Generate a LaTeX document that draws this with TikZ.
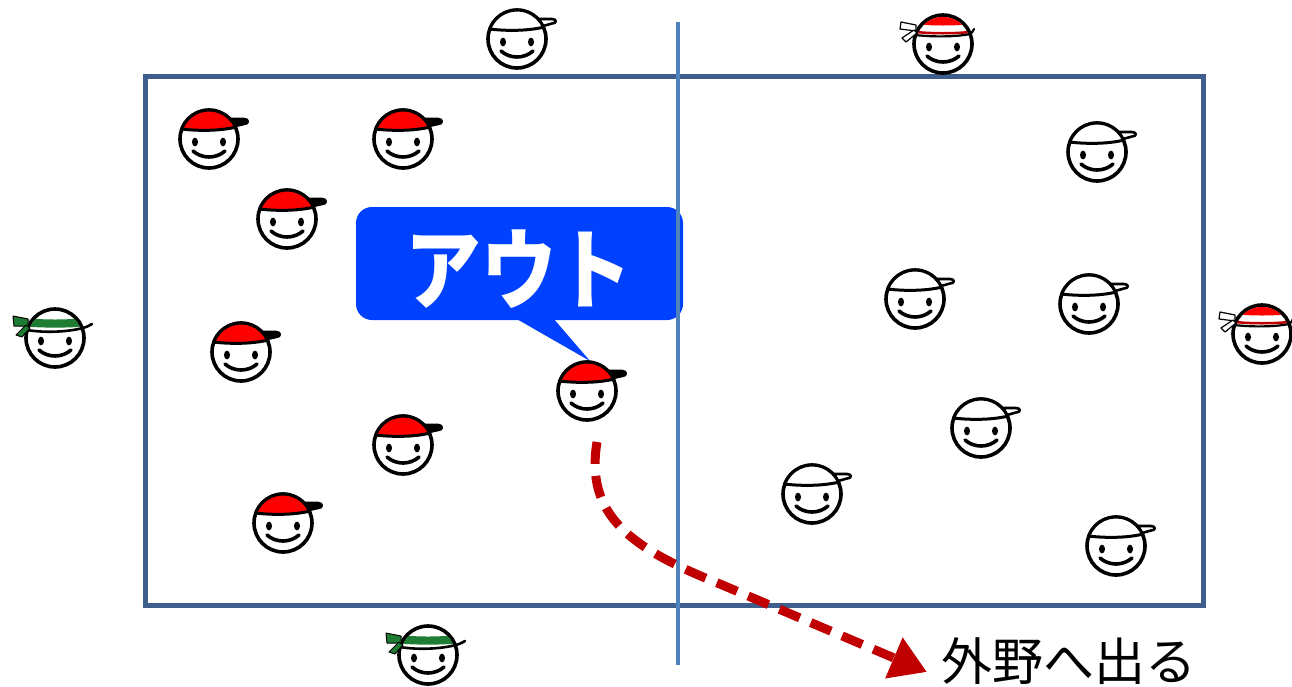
\documentclass[tikz,border=0pt]{standalone}
\usepackage{fontspec}
\usepackage{graphicx}
\newfontfamily\jpfont{Noto Sans CJK JP}
\usetikzlibrary{arrows.meta}

\definecolor{court}{RGB}{62,95,140}
\definecolor{midline}{RGB}{79,129,189}
\definecolor{bubble}{RGB}{0,64,255}
\definecolor{capred}{RGB}{255,0,0}
\definecolor{bandgreen}{RGB}{30,125,50}
\definecolor{pathred}{RGB}{192,0,0}

\tikzset{
  facestroke/.style={line width=3.6pt, line cap=round, line join=round},
  % plain smiling head
  head/.pic={
    \draw[facestroke, fill=white] (0,0) circle (29);
    \fill (-14,3) ellipse (3 and 4.4);
    \fill (14,3) ellipse (3 and 4.4);
    \draw[facestroke] (-16,12) .. controls (-7,20) and (7,20) .. (16,12);
  },
  % head wearing a red cap with a dark brim
  redcap/.pic={
    \pic{head};
    \draw[line width=2.6pt, line join=round, fill=black]
      (22,-20) -- (35,-20) .. controls (40,-20) and (40,-15) .. (35,-15) -- (26,-13) -- cycle;
    \draw[line width=3pt, line join=round, fill=capred]
      (200:29) arc[start angle=200, end angle=336, radius=29]
      .. controls (10,-8) and (-10,-8) .. cycle;
  },
  % head wearing a white cap
  whitecap/.pic={
    \pic{head};
    \draw[line width=2.6pt, line join=round, fill=white]
      (22,-20) -- (35,-20) .. controls (40,-20) and (40,-15.5) .. (35,-15.5) -- (26,-13) -- cycle;
    \draw[line width=3pt, line join=round, fill=white]
      (200:29) arc[start angle=200, end angle=336, radius=29]
      .. controls (10,-8) and (-10,-8) .. cycle;
  },
  % head wearing a green headband
  gband/.pic={
    \pic{head};
    \begin{scope}
      \clip (0,0) circle (27.2);
      \fill[bandgreen] (-30,-20) .. controls (-10,-18) and (10,-18) .. (30,-20)
        -- (30,-11.5) .. controls (10,-10) and (-10,-10) .. (-30,-11.5) -- cycle;
    \end{scope}
    \draw[line width=2.6pt, line cap=round] (-28,-8) .. controls (-10,-5) and (12,-6) .. (28,-10)
      .. controls (32,-11) and (35,-13) .. (37,-14);
    \draw[line width=1pt, fill=bandgreen, line join=round]
      (-27,-19) -- (-42,-22) -- (-41,-12) -- (-27,-12) -- cycle;
    \draw[line width=1pt, fill=bandgreen, line join=round]
      (-29,-13) -- (-39,-3) -- (-33,-1) -- (-25,-10) -- cycle;
  },
  % head wearing a red and white headband
  rband/.pic={
    \pic{head};
    \begin{scope}
      \clip (0,0) circle (27.2);
      \fill[capred] (-30,-40) -- (30,-40) -- (30,-20) .. controls (10,-18) and (-10,-18) .. (-30,-20) -- cycle;
      \fill[pathred] (-30,-13.5) .. controls (-10,-11.5) and (10,-11.5) .. (30,-13.5)
        -- (30,-11) .. controls (10,-9) and (-10,-9) .. (-30,-11) -- cycle;
    \end{scope}
    \draw[line width=2.2pt, line cap=round] (-28,-9) .. controls (-10,-7) and (12,-7) .. (27,-10)
      .. controls (29,-11) and (30,-13) .. (31,-15);
    \draw[line width=1.2pt, fill=white, line join=round]
      (-27,-19) -- (-42,-22) -- (-43,-15) -- (-27,-13) -- cycle;
    \draw[line width=1.2pt, fill=white, line join=round]
      (-29,-14) -- (-41,-6) -- (-37,-2) -- (-26,-11) -- cycle;
  },
}

\begin{document}
\begin{tikzpicture}[x=1pt, y=-1pt]
  \useasboundingbox (0,0) rectangle (1292,686);

  % court outline
  \draw[court, line width=5pt] (145,76) rectangle (1203,605);

  % speech bubble
  \node[fill=bubble, rounded corners=16pt, minimum width=327pt, minimum height=113pt,
        inner sep=0pt] (bubblebox) at (519.5,263.5) {};
  \fill[bubble] (515,318) -- (553,318) -- (590,361) -- cycle;
  \node[text=white, inner sep=0pt, font=\jpfont\bfseries\fontsize{88}{88}\selectfont]
        (outtext) at (519,269) {\scalebox{0.86}[1]{アウト}};

  % centre line
  \draw[midline, line width=3.4pt] (678,22) -- (678,665);

  % label and the route to it
  \node[font=\jpfont\fontsize{51}{51}\selectfont, inner sep=0pt] (outfield) at (1069,661) {外野へ出る};
  \coordinate (outstart) at (597,442);
  \coordinate (outend) at (927,672);
  \draw[pathred, line width=9pt, dash pattern=on 22pt off 12pt,
        -{Triangle[length=36pt, width=42pt]}]
    (outstart) .. controls (585,515) and (630,548) .. (720,584) -- (outend);

  % red team inside the court
  \pic at (209,139) {redcap};
  \pic at (403,139) {redcap};
  \pic at (287,219) {redcap};
  \pic at (241,352) {redcap};
  \pic at (587,391) {redcap};
  \pic at (403,445) {redcap};
  \pic at (283,523) {redcap};

  % white team
  \pic at (517,39) {whitecap};
  \pic at (1097,152) {whitecap};
  \pic at (915,299) {whitecap};
  \pic at (1089,304) {whitecap};
  \pic at (981,428) {whitecap};
  \pic at (812,494) {whitecap};
  \pic at (1116,546) {whitecap};

  % outfield players with headbands
  \pic at (55,338) {gband};
  \pic at (428,655) {gband};
  \pic at (943,44) {rband};
  \pic at (1262,334) {rband};
\end{tikzpicture}
\end{document}
